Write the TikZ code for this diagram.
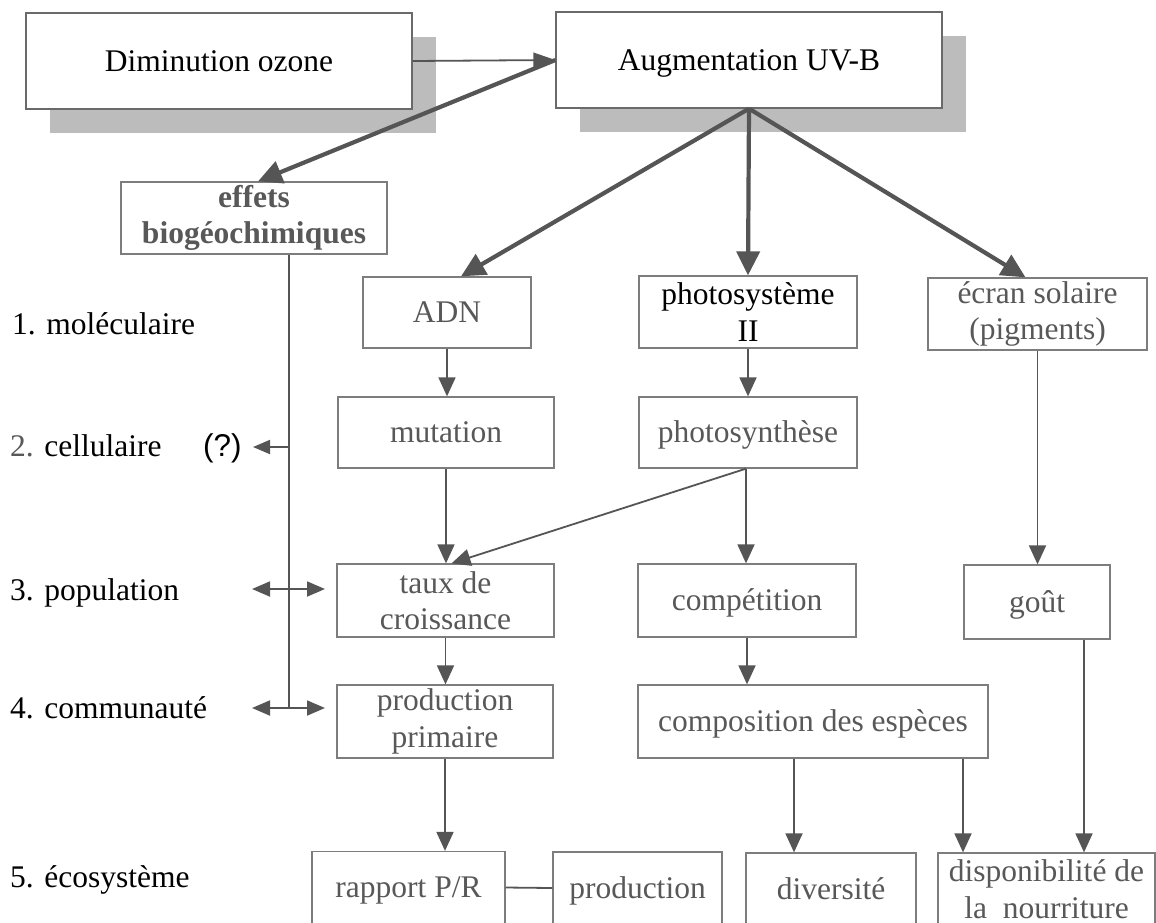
\documentclass[tikz,border=0pt]{standalone}
\usepackage{fontspec}
\setmainfont{Liberation Serif}
\newfontfamily\qsans{Liberation Sans}
\usetikzlibrary{arrows.meta,shadows,calc}
\definecolor{boxline}{RGB}{125,125,125}
\definecolor{arr}{RGB}{85,85,85}
\definecolor{txtgray}{RGB}{88,88,88}
\definecolor{shadowgray}{RGB}{188,188,188}
\tikzset{
  box/.style={draw=boxline, line width=1.3pt, fill=white, inner sep=0pt, align=center,
    text=txtgray, font=\fontsize{31.5}{36.5}\selectfont},
  oneline/.style={text height=27pt, text depth=7pt},
  topbox/.style={box, oneline, draw=boxline!85!black, text=black,
    drop shadow={shadow xshift=23.5pt, shadow yshift=-24pt, fill=shadowgray, opacity=1}},
  lbl/.style={anchor=base west, inner sep=0pt, font=\fontsize{31.5}{36.5}\selectfont},
  thinarr/.style={draw=arr, line width=1.8pt, -{Triangle[length=19pt,width=17pt]}},
  thickarr/.style={draw=arr, line width=4.2pt, -{Triangle[length=24pt,width=23pt]}},
  dblarr/.style={draw=arr, line width=1.8pt, {Triangle[length=18pt,width=15pt]}-{Triangle[length=18pt,width=15pt]}},
  plainline/.style={draw=arr, line width=1.8pt}
}
\begin{document}
\begin{tikzpicture}[x=1pt,y=-1pt]
\useasboundingbox (0,0) rectangle (1156,922);
\clip (0,0) rectangle (1156,922);
\fill[white] (0,0) rectangle (1156,922);

% top boxes
\node[topbox, minimum width=386pt, minimum height=96pt] (dim) at (219,61) {Diminution ozone};
\node[topbox, minimum width=386pt, minimum height=96pt] (aug) at (749,60) {Augmentation UV-B};

% level boxes
\node[box, minimum width=266pt, minimum height=72pt, font=\fontsize{31.5}{36.5}\selectfont\bfseries] (eff) at (254,218) {effets\\biogéochimiques};
\node[box, oneline, minimum width=168pt, minimum height=71pt] (adn) at (447,312.5) {ADN};
\node[box, minimum width=218pt, minimum height=72pt, text=black] (ps) at (748,312) {photosystème\\II};
\node[box, minimum width=219pt, minimum height=72pt] (ecran) at (1037.5,314) {écran solaire\\(pigments)};
\node[box, oneline, minimum width=216pt, minimum height=71pt] (mut) at (446,432.5) {mutation};
\node[box, oneline, minimum width=218pt, minimum height=71pt] (phs) at (748,432.5) {photosynthèse};
\node[box, minimum width=217pt, minimum height=73pt] (taux) at (445.5,600.5) {taux de\\croissance};
\node[box, oneline, minimum width=218pt, minimum height=73pt] (comp) at (747,600.5) {compétition};
\node[box, oneline, minimum width=146pt, minimum height=74pt] (gout) at (1037,602) {goût};
\node[box, minimum width=216pt, minimum height=73pt] (pp) at (445,721.5) {production\\primaire};
\node[box, oneline, minimum width=350pt, minimum height=73pt] (cesp) at (813,721.5) {composition des espèces};
\node[box, oneline, minimum width=193pt, minimum height=72pt] (rap) at (408.5,887.5) {rapport P/R};
\node[box, oneline, minimum width=169pt, minimum height=72pt] (prod) at (637.5,888) {production};
\node[box, oneline, minimum width=170pt, minimum height=72pt] (div) at (831,889) {diversité};
\node[box, minimum width=217pt, minimum height=72pt] (dispo) at (1046.5,889) {disponibilité de\\la~~nourriture};

% left labels
\node[lbl] (l1) at (12,334) {1. moléculaire};
\node[lbl] (l2) at (10,456) {\textcolor{txtgray}{2.} cellulaire};
\node[lbl, font=\fontsize{31.5}{36.5}\selectfont\qsans] (q) at (203,456) {(?)};
\node[lbl] (l3) at (10,600) {3. population};
\node[lbl] (l4) at (10,718) {4. communauté};
\node[lbl] (l5) at (10,887) {5. écosystème};

% free-end coordinates
\coordinate (vtop) at ([xshift=35pt]eff.south);
\coordinate (vend) at (289,708);
\coordinate (c2) at (289,447);
\coordinate (c2t) at (253,447);
\coordinate (p3a) at (252,589);
\coordinate (p3b) at (325,589);
\coordinate (p4a) at (252,708);
\coordinate (p4b) at (325,708);

% connectors
\draw[thinarr, -{Triangle[length=22pt,width=15pt]}] (dim.east) -- (aug.west);
\draw[thickarr] (aug.west) -- ([xshift=4pt]eff.north);
\draw[thickarr] (aug.south) -- ([xshift=14pt]adn.north);
\draw[thickarr] (aug.south) -- (ps.north);
\draw[thickarr] (aug.south) -- ([xshift=-12pt]ecran.north);

\draw[thinarr] (adn.south) -- (adn.south |- mut.north);
\draw[thinarr] (ps.south) -- (phs.north);
\draw[thinarr] (mut.south) -- (mut.south |- taux.north);
\draw[thinarr] ([xshift=-2pt]phs.south) -- ([xshift=6pt]taux.north);
\draw[thinarr] ([xshift=-2pt]phs.south) -- ([xshift=-2pt]phs.south |- comp.north);
\draw[thinarr] (taux.south) -- (taux.south |- pp.north);
\draw[thinarr] (comp.south) -- (comp.south |- cesp.north);
\draw[thinarr] (ecran.south) -- (ecran.south |- gout.north);
\draw[thinarr] (pp.south) -- (pp.south |- rap.north);
\draw[plainline] (rap.east) -- (prod.west);
\draw[thinarr] ([xshift=-19pt]cesp.south) -- ([xshift=-19pt]cesp.south |- div.north);
\draw[thinarr] ([xshift=150pt]cesp.south) -- ([xshift=150pt]cesp.south |- dispo.north);
\draw[thinarr] ([xshift=47pt]gout.south) -- ([xshift=47pt]gout.south |- dispo.north);

\draw[plainline] (vtop) -- (vend);
\draw[thinarr, -{Triangle[length=17pt,width=14pt]}] (c2) -- (c2t);
\draw[dblarr] (p3a) -- (p3b);
\draw[dblarr] (p4a) -- (p4b);
\end{tikzpicture}
\end{document}
